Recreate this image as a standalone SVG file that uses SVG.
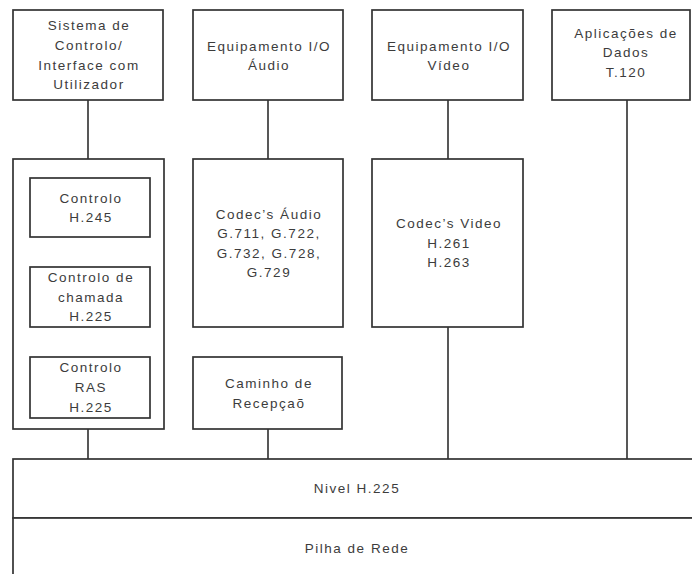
<svg xmlns="http://www.w3.org/2000/svg" width="692" height="574" viewBox="0 0 692 574">
  <style>
    .box { fill: #ffffff; stroke: #333333; stroke-width: 1.7; }
    .wire { stroke: #3a3a3a; stroke-width: 1.7; fill: none; }
    text { font-family: "Liberation Sans", Arial, sans-serif; font-size: 13.5px; fill: #3c3c3c; text-anchor: middle; letter-spacing: 1.5px; }
  </style>
  <rect width="692" height="574" fill="#ffffff"/>

  <!-- connectors -->
  <g id="connectors">
    <line class="wire" x1="88" y1="100" x2="88" y2="159"/>
    <line class="wire" x1="88" y1="429" x2="88" y2="459"/>
    <line class="wire" x1="268" y1="100" x2="268" y2="159"/>
    <line class="wire" x1="268" y1="429" x2="268" y2="459"/>
    <line class="wire" x1="448" y1="100" x2="448" y2="159"/>
    <line class="wire" x1="448" y1="327" x2="448" y2="459"/>
    <line class="wire" x1="627" y1="100" x2="627" y2="459"/>
  </g>

  <!-- top row -->
  <g id="sistema-controlo">
    <rect class="box" x="13" y="10" width="150" height="90"/>
    <text x="89" y="30">Sistema de</text>
    <text x="89" y="50">Controlo/</text>
    <text x="89" y="69.5">Interface com</text>
    <text x="89" y="89">Utilizador</text>
  </g>
  <g id="io-audio">
    <rect class="box" x="193" y="10" width="150" height="90"/>
    <text x="269" y="50.5">Equipamento I/O</text>
    <text x="269" y="70">Áudio</text>
  </g>
  <g id="io-video">
    <rect class="box" x="372" y="10" width="151" height="90"/>
    <text x="449" y="50.5">Equipamento I/O</text>
    <text x="449" y="70">Vídeo</text>
  </g>
  <g id="aplicacoes-dados">
    <rect class="box" x="552" y="10" width="138" height="90"/>
    <text x="626" y="37.5">Aplicações de</text>
    <text x="626" y="57">Dados</text>
    <text x="626" y="76.5">T.120</text>
  </g>

  <!-- middle row -->
  <g id="controlo-grupo">
    <rect class="box" x="13" y="159" width="151" height="270"/>
  </g>
  <g id="controlo-h245">
    <rect class="box" x="30" y="178" width="120" height="59"/>
    <text x="91" y="202.5">Controlo</text>
    <text x="91" y="222">H.245</text>
  </g>
  <g id="controlo-chamada">
    <rect class="box" x="30" y="267" width="120" height="60"/>
    <text x="91" y="282">Controlo de</text>
    <text x="91" y="301.5">chamada</text>
    <text x="91" y="321">H.225</text>
  </g>
  <g id="controlo-ras">
    <rect class="box" x="30" y="357" width="120" height="61"/>
    <text x="91" y="372">Controlo</text>
    <text x="91" y="392">RAS</text>
    <text x="91" y="411.5">H.225</text>
  </g>
  <g id="codecs-audio">
    <rect class="box" x="193" y="159" width="150" height="168"/>
    <text x="269" y="218.5">Codec’s Áudio</text>
    <text x="269" y="238">G.711, G.722,</text>
    <text x="269" y="257.5">G.732, G.728,</text>
    <text x="269" y="277">G.729</text>
  </g>
  <g id="caminho-recepcao">
    <rect class="box" x="193" y="357" width="149" height="72"/>
    <text x="269" y="388">Caminho de</text>
    <text x="269" y="407.5">Recepçaõ</text>
  </g>
  <g id="codecs-video">
    <rect class="box" x="372" y="159" width="151" height="168"/>
    <text x="449" y="228">Codec’s Video</text>
    <text x="449" y="247.5">H.261</text>
    <text x="449" y="267">H.263</text>
  </g>

  <!-- bottom layers -->
  <g id="nivel-h225">
    <rect class="box" x="13" y="459" width="690" height="59"/>
    <text x="357" y="493">Nivel H.225</text>
  </g>
  <g id="pilha-rede">
    <rect class="box" x="13" y="518" width="690" height="70"/>
    <text x="357" y="553">Pilha de Rede</text>
  </g>
</svg>
